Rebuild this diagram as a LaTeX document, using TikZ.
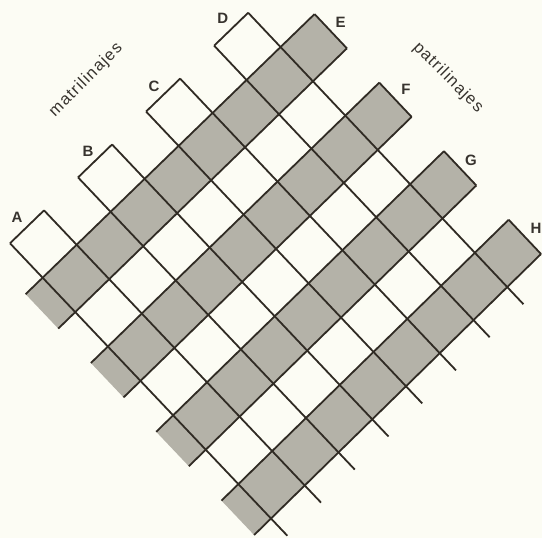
\documentclass[tikz,border=0pt]{standalone}
\usepackage{fontspec}
\setmainfont{Liberation Sans}
\definecolor{bg}{RGB}{252,252,244}
\definecolor{cellgrey}{RGB}{180,178,168}
\definecolor{ink}{RGB}{48,43,36}
\definecolor{txt}{RGB}{55,51,46}
\begin{document}
\begin{tikzpicture}[x=1pt,y=-1pt,
  gridline/.style={draw=ink,line width=1.8pt},
  band/.style={fill=cellgrey},
  lab/.style={font=\fontsize{15}{15}\selectfont\bfseries, text=txt, inner sep=0pt},
  lin/.style={font=\fontsize{16.5}{16.5}\selectfont\addfontfeature{LetterSpace=7}, text=txt, inner sep=0pt}]
\fill[bg] (0,0) rectangle (542,538);
\useasboundingbox (0,0) rectangle (542,538);
% grid points: a = 2i+2, b = 2j+2 (half-cell steps)
\foreach \a in {0,...,17}{
  \foreach \b in {0,...,17}{
    \pgfmathsetmacro\gs{\a/16}
    \pgfmathsetmacro\gt{\b/16}
    \pgfmathsetmacro\gX{(1-\gs)*(1-\gt)*282.2+\gs*(1-\gt)*541+(1-\gs)*\gt*10+\gs*\gt*271}
    \pgfmathsetmacro\gY{(1-\gs)*(1-\gt)*(-20.2)+\gs*(1-\gt)*254+(1-\gs)*\gt*243.3+\gs*\gt*518.5}
    \coordinate (g\a-\b) at (\gX,\gY);
  }
}
% patrilineal bands (grey)
\foreach \a/\c in {2/4,6/8,10/12,14/16}{
  \fill[band] (g\a-0) -- (g\c-0) -- (g\c-17) -- (g\a-17) -- cycle;
}
% lines parallel to matrilineal bands
\foreach \b in {2,4,...,16}{
  \draw[gridline] (g0-\b) -- (g17-\b);
}
\foreach \a/\c in {2/4,6/8,10/12,14/16}{
  \draw[gridline] (g\a-0) -- (g\c-0);
}
% lines parallel to patrilineal bands
\foreach \a in {2,4,...,16}{
  \draw[gridline] (g\a-0) -- (g\a-17);
}
\foreach \b/\c in {2/4,6/8,10/12,14/16}{
  \draw[gridline] (g0-\b) -- (g0-\c);
}
% labels
\node[lab] (A) at (17,217) {A};
\node[lab] (B) at (88,151) {B};
\node[lab] (C) at (154,86) {C};
\node[lab] (D) at (222.7,18.3) {D};
\node[lab] (E) at (340.7,22.7) {E};
\node[lab] (F) at (406,89.3) {F};
\node[lab] (G) at (471,160) {G};
\node[lab] (H) at (536,228) {H};
\node[lin, rotate=45] (matri) at (86,80) {matrilinajes};
\node[lin, rotate=-45] (patri) at (448,77.5) {patrilinajes};
\end{tikzpicture}
\end{document}
